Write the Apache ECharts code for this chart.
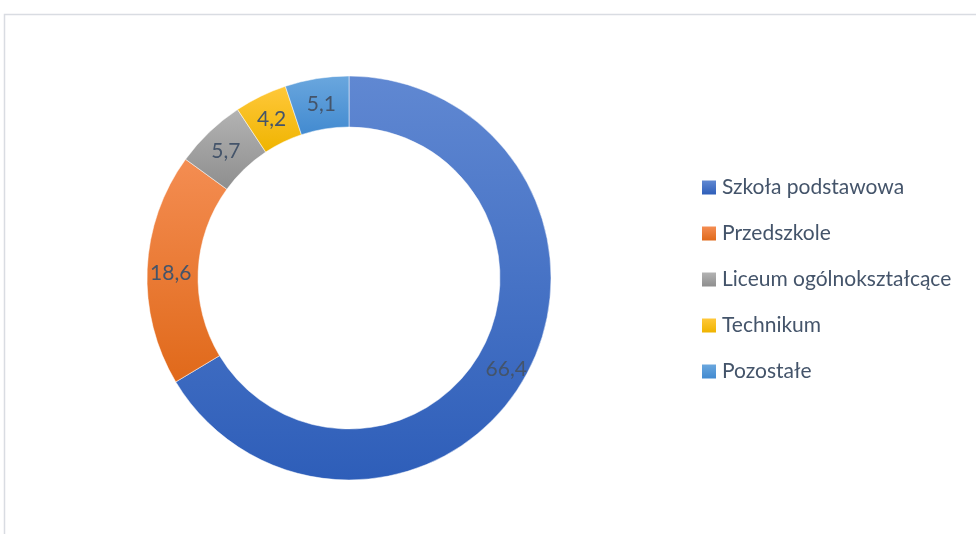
<!DOCTYPE html>
<html>
<head>
<meta charset="utf-8">
<script src="https://cdn.jsdelivr.net/npm/echarts@6/dist/echarts.min.js"></script>
<style>
  html, body { margin: 0; padding: 0; background: #fff; }
  #container { width: 976px; height: 534px; }
</style>
</head>
<body>
<div id="container"></div>
<script>
// dane wykresu
const categories = ['Szkoła podstawowa', 'Przedszkole', 'Liceum ogólnokształcące', 'Technikum', 'Pozostałe'];
const values = [66.4, 18.6, 5.7, 4.2, 5.1];
const colorsTop = ['#6088d2', '#f48d52', '#b3b3b3', '#ffc83a', '#6aa7de'];
const colorsBottom = ['#2e5eb9', '#e0691a', '#8e8e8e', '#efb400', '#428ad0'];

function grad(i) {
  return {
    type: 'linear', x: 0, y: 0, x2: 0, y2: 1,
    colorStops: [
      { offset: 0, color: colorsTop[i] },
      { offset: 1, color: colorsBottom[i] }
    ]
  };
}

var dom = document.getElementById('container');
var myChart = echarts.init(dom, null, { renderer: 'canvas' });

var option = {
  animation: false,
  graphic: [
    {
      type: 'rect',
      shape: { x: 4.5, y: 14.5, width: 1000, height: 600 },
      style: { fill: 'none', stroke: '#d9dce2', lineWidth: 1.5 },
      silent: true
    }
  ],
  legend: {
    orient: 'vertical',
    left: 702,
    top: 177,
    padding: 0,
    itemWidth: 14,
    itemHeight: 14,
    itemGap: 25,
    icon: 'rect',
    itemStyle: { borderWidth: 0 },
    textStyle: {
      fontFamily: 'Lato',
      fontSize: 21,
      lineHeight: 20,
      color: '#44546a',
      padding: [0, 0, 0, 1]
    },
    data: categories
  },
  series: [
    {
      type: 'pie',
      center: [349, 278],
      radius: [151, 202],
      startAngle: 90,
      clockwise: true,
      avoidLabelOverlap: false,
      itemStyle: { borderColor: '#ffffff', borderWidth: 0.5 },
      label: {
        show: true,
        position: 'inside',
        fontFamily: 'Lato',
        fontSize: 21,
        color: '#44546a',
        offset: [1, 3],
        formatter: function (p) { return String(p.value).replace('.', ','); }
      },
      labelLine: { show: false },
      data: categories.map(function (name, i) {
        return { name: name, value: values[i], itemStyle: { color: grad(i) } };
      })
    }
  ]
};

myChart.setOption(option);
</script>
</body>
</html>
